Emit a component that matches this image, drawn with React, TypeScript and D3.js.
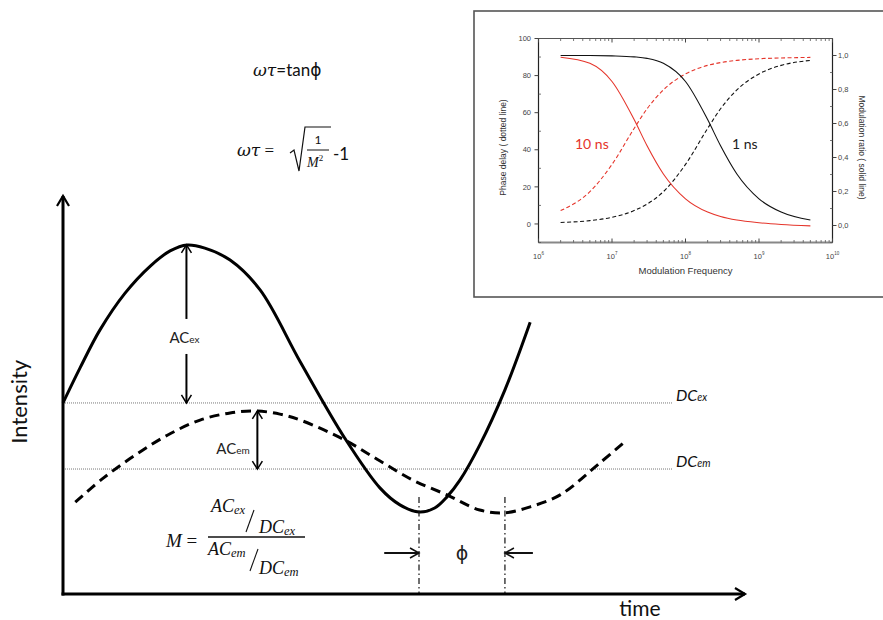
import React from 'react';
import * as d3 from 'd3';

// ---------- Main schematic data (time in arbitrary units 0-100, intensity 0-100) ----------
const exTime = [0, 2.5, 5.4, 9.1, 12.8, 15.7, 18.2, 20.8, 24.5, 28.9, 34.8, 41.3, 46.5, 49.4, 52.2, 54.5, 56.3, 58.2, 61.1, 64.8, 68.5];
const exIntensity = [48, 56.8, 66.3, 75.6, 82.4, 86.2, 87.7, 86.9, 83.9, 76.4, 58.3, 39.2, 26.6, 22.4, 20.6, 21.6, 24.4, 28.6, 37.4, 51.3, 68.3];
const emTime = [1.8, 5.9, 10.6, 15.3, 20.1, 24.5, 28.2, 31.8, 34.8, 41.3, 46.5, 51.3, 56.3, 61.1, 64.8, 68.5, 72.9, 78.7, 82.7];
const emIntensity = [23.1, 29.1, 34.9, 39.9, 43.7, 45.5, 46.0, 45.2, 43.7, 38.7, 33.4, 28.6, 24.9, 21.1, 20.4, 21.9, 24.9, 32.9, 38.7];
const dcLevels = [48.0, 31.4];
const dcLabels = [['DC', 'ex'], ['DC', 'em']];
const dcLineEnd = 89.3;
const acExTime = 18.1;
const acExTop = 87.7;
const acEmTime = 28.5;
const acEmTop = 46.0;
const phaseTimes = [52.2, 64.8];
const phaseLineTop = 24.4;
const phaseArrowLevel = 10.3;
const phaseArrowLength = 5.1;

// ---------- Inset data ----------
const freqs = [2e6, 5e6, 1e7, 2e7, 3e7, 5e7, 1e8, 2e8, 3e8, 5e8, 1e9, 2e9, 5e9];
const phase10ns = [7.2, 17.4, 32.1, 51.5, 62.1, 72.3, 80.9, 85.5, 87.0, 88.2, 89.1, 89.5, 89.8];
const phase1ns = [0.8, 1.8, 3.6, 7.2, 10.7, 17.4, 32.1, 51.5, 62.1, 72.3, 80.9, 85.5, 88.2];
const mod10ns = [0.99, 0.954, 0.847, 0.623, 0.469, 0.303, 0.157, 0.079, 0.053, 0.032, 0.016, 0.006, -0.002];
const mod1ns = [1.0, 1.0, 0.998, 0.992, 0.983, 0.954, 0.847, 0.623, 0.469, 0.303, 0.157, 0.079, 0.032];
const phaseTicks = [0, 20, 40, 60, 80, 100];
const phaseMinor = [-10, 10, 30, 50, 70, 90];
const modTicks = [0, 0.2, 0.4, 0.6, 0.8, 1.0];
const modTickLabels = ['0,0', '0,2', '0,4', '0,6', '0,8', '1,0'];
const modMinor = [-0.1, 0.1, 0.3, 0.5, 0.7, 0.9, 1.1];
const decadeExps = [6, 7, 8, 9, 10];

const RED = '#e5352b';
const MATH = '"Liberation Serif", "DejaVu Serif", serif';
const GREEK = '"DejaVu Serif", serif';
const SANS = 'Lato, "Open Sans", sans-serif';
const ARIAL = '"Liberation Sans", Arial, sans-serif';

function chevron(tx: number, ty: number, dir: 'up' | 'down' | 'left' | 'right', len = 8, half = 5) {
  if (dir === 'up') return `M${tx - half},${ty + len}L${tx},${ty}L${tx + half},${ty + len}`;
  if (dir === 'down') return `M${tx - half},${ty - len}L${tx},${ty}L${tx + half},${ty - len}`;
  if (dir === 'right') return `M${tx - len},${ty - half}L${tx},${ty}L${tx - len},${ty + half}`;
  return `M${tx + len},${ty - half}L${tx},${ty}L${tx + len},${ty + half}`;
}

export default function App() {
  // main scales
  const x = d3.scaleLinear().domain([0, 100]).range([63, 745]);
  const y = d3.scaleLinear().domain([0, 100]).range([594, 196]);
  const line = d3
    .line<[number, number]>()
    .x((d) => x(d[0]))
    .y((d) => y(d[1]))
    .curve(d3.curveCatmullRom.alpha(0.5));
  const exPath = line(exTime.map((t, i) => [t, exIntensity[i]]) as [number, number][]) || '';
  const emPath = line(emTime.map((t, i) => [t, emIntensity[i]]) as [number, number][]) || '';

  // inset scales
  const ix = d3.scaleLog().domain([1e6, 1e10]).range([538.5, 832.5]);
  const iyL = d3.scaleLinear().domain([-10, 100]).range([242.5, 38.5]);
  const iyR = d3.scaleLinear().domain([-0.1, 1.1]).range([242.5, 38.5]);
  const lineL = d3
    .line<[number, number]>()
    .x((d) => ix(d[0]))
    .y((d) => iyL(d[1]))
    .curve(d3.curveMonotoneX);
  const lineR = d3
    .line<[number, number]>()
    .x((d) => ix(d[0]))
    .y((d) => iyR(d[1]))
    .curve(d3.curveMonotoneX);
  const mk = (vals: number[]) => freqs.map((f, i) => [f, vals[i]] as [number, number]);

  const minorFreqs: number[] = [];
  for (let e = 6; e < 10; e++) for (let k = 2; k <= 9; k++) minorFreqs.push(k * Math.pow(10, e));

  const [xL, xR] = ix.range();
  const [yB, yT] = iyL.range();

  const acExX = x(acExTime);
  const acEmX = x(acEmTime);

  return (
    <svg width={883} height={620} style={{ position: 'absolute', left: 0, top: 0, background: '#fff' }}>
      {/* ===== Main schematic ===== */}
      {dcLevels.map((lv, i) => (
        <g key={'dc' + i}>
          <line x1={x(0)} x2={x(dcLineEnd)} y1={y(lv)} y2={y(lv)} stroke="#777" strokeWidth={1} strokeDasharray="1,1" />
          <text x={x(dcLineEnd) + 4} y={y(lv) - 2} fontFamily={SANS} fontStyle="italic" fontSize={16} fill="#111">
            {dcLabels[i][0]}
            <tspan fontSize={10.5}>{dcLabels[i][1]}</tspan>
          </text>
        </g>
      ))}

      <path d={exPath} fill="none" stroke="#000" strokeWidth={3} />
      <path d={emPath} fill="none" stroke="#000" strokeWidth={3} strokeDasharray="10,6" />

      {phaseTimes.map((t, i) => (
        <line key={'ph' + i} x1={x(t)} x2={x(t)} y1={y(phaseLineTop)} y2={y(0)} stroke="#111" strokeWidth={1.2} strokeDasharray="6,3,1.5,3" />
      ))}
      <line x1={x(phaseTimes[0] - phaseArrowLength)} x2={x(phaseTimes[0])} y1={y(phaseArrowLevel)} y2={y(phaseArrowLevel)} stroke="#111" strokeWidth={2} />
      <path d={chevron(x(phaseTimes[0]), y(phaseArrowLevel), 'right', 9, 5)} fill="none" stroke="#111" strokeWidth={1.5} />
      <line x1={x(phaseTimes[1] + phaseArrowLength - 1)} x2={x(phaseTimes[1])} y1={y(phaseArrowLevel)} y2={y(phaseArrowLevel)} stroke="#111" strokeWidth={2} />
      <path d={chevron(x(phaseTimes[1]), y(phaseArrowLevel), 'left', 9, 5)} fill="none" stroke="#111" strokeWidth={1.5} />
      <text x={(x(phaseTimes[0]) + x(phaseTimes[1])) / 2} y={y(phaseArrowLevel) + 7} textAnchor="middle" fontFamily={'"DejaVu Sans", sans-serif'} fontSize={19} fill="#222">
        ϕ
      </text>

      <line x1={acExX} x2={acExX} y1={y(acExTop)} y2={y(acExTop) + 74} stroke="#000" strokeWidth={2} />
      <line x1={acExX} x2={acExX} y1={y(acExTop) + 109} y2={y(dcLevels[0])} stroke="#000" strokeWidth={2} />
      <path d={chevron(acExX, y(acExTop), 'up', 8, 5)} fill="none" stroke="#000" strokeWidth={1.5} />
      <path d={chevron(acExX, y(dcLevels[0]), 'down', 8, 5)} fill="none" stroke="#000" strokeWidth={1.5} />
      <text x={acExX - 2} y={y(acExTop) + 98} textAnchor="middle" fontFamily={SANS} fontSize={15} fill="#222">
        AC<tspan fontSize={10}>ex</tspan>
      </text>

      <line x1={acEmX} x2={acEmX} y1={y(acEmTop)} y2={y(dcLevels[1])} stroke="#000" strokeWidth={2} />
      <path d={chevron(acEmX, y(acEmTop), 'up', 8, 5)} fill="none" stroke="#000" strokeWidth={1.5} />
      <path d={chevron(acEmX, y(dcLevels[1]), 'down', 8, 5)} fill="none" stroke="#000" strokeWidth={1.5} />
      <text x={acEmX - 41} y={y(acEmTop) + 43} fontFamily={SANS} fontSize={15} fill="#222">
        AC<tspan fontSize={10}>em</tspan>
      </text>

      <line x1={x(0)} x2={x(0)} y1={y(0) + 1.5} y2={y(100)} stroke="#000" strokeWidth={3} />
      <path d={chevron(x(0), y(100), 'up', 10, 6)} fill="none" stroke="#000" strokeWidth={2.2} />
      <line x1={x(0) - 1.5} x2={x(100)} y1={y(0)} y2={y(0)} stroke="#000" strokeWidth={3} />
      <path d={chevron(x(100), y(0), 'right', 10, 6)} fill="none" stroke="#000" strokeWidth={2.2} />
      <text transform={`translate(27,${y(48.3)}) rotate(-90)`} textAnchor="middle" fontFamily={SANS} fontSize={22} fill="#111">
        Intensity
      </text>
      <text x={x(84.6)} y={616} textAnchor="middle" fontFamily={SANS} fontSize={21} fill="#111">
        time
      </text>

      {/* Formulas */}
      <text x={253} y={76} fontSize={17} fill="#111">
        <tspan fontFamily={GREEK} fontStyle="italic">ωτ</tspan>
        <tspan fontFamily={SANS}>=tan</tspan>
        <tspan fontFamily={'"DejaVu Sans", sans-serif'}>ϕ</tspan>
      </text>

      <text x={237} y={156} fontSize={17} fill="#111">
        <tspan fontFamily={GREEK} fontStyle="italic">ωτ</tspan>
        <tspan fontFamily={MATH}> =</tspan>
      </text>
      <path d="M290,153 L294,150 L299,171 L305,127 L331,127" fill="none" stroke="#111" strokeWidth={1.2} />
      <text x={318} y={144} textAnchor="middle" fontFamily={SANS} fontSize={12} fill="#111">1</text>
      <line x1={307} x2={329} y1={150} y2={150} stroke="#111" strokeWidth={1} />
      <text x={307} y={167} fontFamily={MATH} fontStyle="italic" fontSize={14} fill="#111">
        M<tspan fontStyle="normal" fontSize={9} dy={-6}>2</tspan>
      </text>
      <text x={333} y={160} fontFamily={SANS} fontSize={17} fill="#111">-1</text>

      {/* M formula */}
      <text x={166} y={547} fontFamily={MATH} fontStyle="italic" fontSize={19} fill="#111">
        M <tspan fontStyle="normal">=</tspan>
      </text>
      <text x={211} y={512} fontFamily={MATH} fontStyle="italic" fontSize={18} fill="#111">
        AC<tspan fontSize={12.5} dy={2}>ex</tspan>
      </text>
      <line x1={254} x2={246} y1={510} y2={532} stroke="#111" strokeWidth={1.1} />
      <text x={259} y={533} fontFamily={MATH} fontStyle="italic" fontSize={18} fill="#111">
        DC<tspan fontSize={12.5} dy={2}>ex</tspan>
      </text>
      <line x1={208} x2={305} y1={537} y2={537} stroke="#111" strokeWidth={1.4} />
      <text x={208} y={555} fontFamily={MATH} fontStyle="italic" fontSize={18} fill="#111">
        AC<tspan fontSize={12.5} dy={2}>em</tspan>
      </text>
      <line x1={258} x2={250} y1={549} y2={571} stroke="#111" strokeWidth={1.1} />
      <text x={259} y={574} fontFamily={MATH} fontStyle="italic" fontSize={18} fill="#111">
        DC<tspan fontSize={12.5} dy={2}>em</tspan>
      </text>

      {/* ===== Inset ===== */}
      <rect x={474} y={11} width={420} height={286} fill="#fff" stroke="#555" strokeWidth={1.6} />
      <line x1={xL} x2={xR} y1={yT} y2={yT} stroke="#555" strokeWidth={1} />
      <line x1={xL} x2={xR} y1={yB} y2={yB} stroke="#888" strokeWidth={2} />
      <line x1={xL} x2={xL} y1={yT} y2={yB} stroke="#222" strokeWidth={1.2} />
      <line x1={xR} x2={xR} y1={yT} y2={yB} stroke="#222" strokeWidth={1.2} />

      {decadeExps.map((e) => {
        const px = ix(Math.pow(10, e));
        return (
          <g key={'xd' + e}>
            <line x1={px} x2={px} y1={yB} y2={yB - 4} stroke="#444" strokeWidth={1} />
            <line x1={px} x2={px} y1={yT} y2={yT + 4} stroke="#444" strokeWidth={1} />
            <text x={px} y={258.5} textAnchor="middle" fontFamily={ARIAL} fontSize={7.5} fill="#444">
              10<tspan fontSize={4.5} dy={-3.5}>{e}</tspan>
            </text>
          </g>
        );
      })}
      {minorFreqs.map((f, i) => (
        <g key={'xm' + i}>
          <line x1={ix(f)} x2={ix(f)} y1={yB} y2={yB - 2.5} stroke="#555" strokeWidth={0.8} />
          <line x1={ix(f)} x2={ix(f)} y1={yT} y2={yT + 2.5} stroke="#555" strokeWidth={0.8} />
        </g>
      ))}
      <text x={(xL + xR) / 2} y={274} textAnchor="middle" fontFamily={ARIAL} fontSize={9.5} fill="#333">
        Modulation Frequency
      </text>

      {phaseTicks.map((v) => (
        <g key={'yl' + v}>
          <line x1={xL} x2={xL - 4} y1={iyL(v)} y2={iyL(v)} stroke="#444" strokeWidth={1} />
          <text x={531} y={iyL(v) + 2.7} textAnchor="end" fontFamily={ARIAL} fontSize={7.5} fill="#444">
            {v}
          </text>
        </g>
      ))}
      {phaseMinor.map((v) => (
        <line key={'ylm' + v} x1={xL} x2={xL + 2.5} y1={iyL(v)} y2={iyL(v)} stroke="#555" strokeWidth={0.8} />
      ))}
      <text transform={`translate(506,147.5) rotate(-90)`} textAnchor="middle" fontFamily={ARIAL} fontSize={8.5} fill="#333">
        Phase delay ( dotted line)
      </text>

      {modTicks.map((v, i) => (
        <g key={'yr' + v}>
          <line x1={xR} x2={xR + 4} y1={iyR(v)} y2={iyR(v)} stroke="#444" strokeWidth={1} />
          <text x={838} y={iyR(v) + 2.7} fontFamily={ARIAL} fontSize={7.5} fill="#444">
            {modTickLabels[i]}
          </text>
        </g>
      ))}
      {modMinor.map((v) => (
        <line key={'yrm' + v} x1={xR} x2={xR - 2.5} y1={iyR(v)} y2={iyR(v)} stroke="#555" strokeWidth={0.8} />
      ))}
      <text transform={`translate(858.5,147.5) rotate(90)`} textAnchor="middle" fontFamily={ARIAL} fontSize={8.5} fill="#333">
        Modulation ratio ( solid line)
      </text>

      <path d={lineL(mk(phase10ns)) || ''} fill="none" stroke={RED} strokeWidth={1.1} strokeDasharray="4,2.5" />
      <path d={lineL(mk(phase1ns)) || ''} fill="none" stroke="#111" strokeWidth={1.1} strokeDasharray="4,2.5" />
      <path d={lineR(mk(mod10ns)) || ''} fill="none" stroke={RED} strokeWidth={1.1} />
      <path d={lineR(mk(mod1ns)) || ''} fill="none" stroke="#111" strokeWidth={1.1} />

      <text x={575} y={149} fontFamily={SANS} fontSize={14} fill={RED}>10 ns</text>
      <text x={732} y={149} fontFamily={SANS} fontSize={14} fill="#222">1 ns</text>
    </svg>
  );
}
